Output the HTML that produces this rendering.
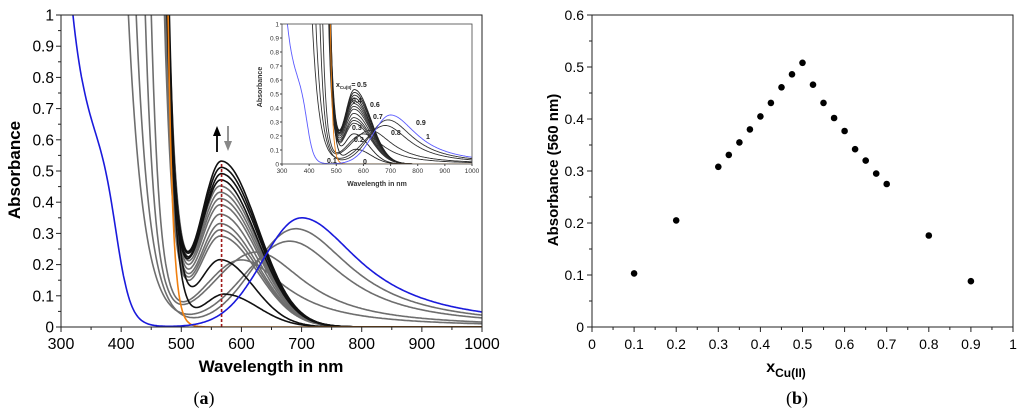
<!DOCTYPE html>
<html><head><meta charset="utf-8">
<style>
html,body{margin:0;padding:0;background:#fff;}
svg{display:block;font-family:"Liberation Sans",Arial,sans-serif;}
</style></head>
<body>
<svg id="fig" width="1024" height="416" viewBox="0 0 1024 416" xmlns="http://www.w3.org/2000/svg">
<defs>
<clipPath id="clipA"><rect x="61" y="15" width="421" height="312"/></clipPath>
<clipPath id="clipI"><rect x="282" y="24" width="190" height="140"/></clipPath>
</defs>
<g id="panelA"></g>
<g id="inset"></g>
<g id="panelB"></g>
<text x="204" y="404" font-family="Liberation Serif,serif" font-size="18" text-anchor="middle">(<tspan font-weight="bold">a</tspan>)</text>
<text x="797" y="404" font-family="Liberation Serif,serif" font-size="18" text-anchor="middle">(<tspan font-weight="bold">b</tspan>)</text>
</svg>
<script>
// ---- Panel (a) spectra parameters (one entry per spectrum) ----
const seriesKind  = ['gray','gray','gray','gray','gray','gray','gray','gray','gray','gray','gray','gray','black','black','black','black','black','black','orange','blue'];
const edgeNm      = [412,425,440,450,472,473,474,475,476,477,478,479,478,480,476,477,478,478,478,320];
const edgeDecay   = [25,22,16,14,14,14,14,14,14,14,14,14,12,12,14,14,14,14,8,25];
const edgeAmp     = [1,1,1,1,1,1,1,1,1,1,1,1,1,1,1,1,1,1,1,0.45];
const peakNm      = [680,690,625,600,565,565,565,565,565,565,565,565,572,565,566,567,567,567,0,700];
const peakAbs     = [0.275,0.315,0.24,0.215,0.29,0.31,0.33,0.36,0.39,0.41,0.43,0.45,0.105,0.215,0.47,0.49,0.51,0.53,0,0.35];
const leftSigma   = [75,70,70,60,35,35,35,35,35,35,35,35,35,35,35,35,35,35,1,65];
const rightWidth  = [110,115,100,90,62,62,62,62,62,62,62,62,55,55,60,60,60,60,1,120];
const lorentzTail = [1,1,1,1,0,0,0,0,0,0,0,0,0,0,0,0,0,0,0,1];
const shoulderAmp = [0,0,0,0,0,0,0,0,0,0,0,0,0,0,0,0,0,0,0,0.55];
const shoulderNm  = [0,0,0,0,0,0,0,0,0,0,0,0,0,0,0,0,0,0,0,392];
const xTicksA = [300,400,500,600,700,800,900,1000];
const yTicksA = [0,0.1,0.2,0.3,0.4,0.5,0.6,0.7,0.8,0.9,1];
const markerNm = 567, markerAbs = 0.53;

// ---- Panel (b) Job plot ----
const moleFraction = [0.1,0.2,0.3,0.325,0.35,0.375,0.4,0.425,0.45,0.475,0.5,0.525,0.55,0.575,0.6,0.625,0.65,0.675,0.7,0.8,0.9];
const absAt560     = [0.103,0.205,0.308,0.331,0.355,0.38,0.405,0.431,0.461,0.486,0.508,0.466,0.431,0.402,0.377,0.342,0.32,0.295,0.275,0.176,0.088];
const xTicksB = [0,0.1,0.2,0.3,0.4,0.5,0.6,0.7,0.8,0.9,1];
const yTicksB = [0,0.1,0.2,0.3,0.4,0.5,0.6];

// ---- inset labels ----
const insetLabels = ['0.5','0.4','0.6','0.7','0.3','0.9','0.8','1','0.2','0.1','0'];

const NS='http://www.w3.org/2000/svg';
function mk(tag,attrs,parent){const e=document.createElementNS(NS,tag);for(const k in attrs)e.setAttribute(k,attrs[k]);parent.appendChild(e);return e;}
const colorOf={gray:'#6e6e6e',black:'#111',orange:'#f08010',blue:'#1a1adc'};
const insetColor={gray:'#333',black:'#222',orange:'#f08010',blue:'#5a5aff'};

function absorb(i,l){
  let a=edgeAmp[i]*Math.exp(-(l-edgeNm[i])/edgeDecay[i]);
  if(shoulderAmp[i]>0)a+=shoulderAmp[i]/(1+Math.exp((l-shoulderNm[i])/12));
  const p=peakNm[i],h=peakAbs[i];
  if(h>0){
    if(l<p)a+=h*Math.exp(-0.5*Math.pow((l-p)/leftSigma[i],2));
    else if(lorentzTail[i])a+=h/(1+Math.pow((l-p)/rightWidth[i],2));
    else a+=h*Math.exp(-0.5*Math.pow((l-p)/rightWidth[i],2));
  }
  return Math.min(a,1.3);
}

function drawSpectra(g,X,Y,clip,sw,cols,prefix){
  const cg=mk('g',{'clip-path':'url(#'+clip+')'},g);
  for(let i=0;i<seriesKind.length;i++){
    let d='';
    for(let l=300;l<=1000;l+=2){d+=(l===300?'M':'L')+X(l).toFixed(1)+','+Y(absorb(i,l)).toFixed(1);}
    const p=mk('path',{d:d,fill:'none',stroke:cols[seriesKind[i]],'stroke-width':sw},cg);
    
    
  }
}

// ===== Panel A =====
(function(){
  const g=document.getElementById('panelA');
  const L=61,R=482,T=15,B=327;
  const X=v=>L+(v-300)/700*(R-L), Y=v=>B-v*(B-T);
  drawSpectra(g,X,Y,'clipA',1.6,colorOf,'main');
  const ml=mk('line',{x1:X(markerNm),x2:X(markerNm),y1:Y(0),y2:Y(markerAbs),stroke:'#a01818','stroke-width':1.6,'stroke-dasharray':'3,2'},g);
  
  const a1=mk('g',{},g);
  mk('line',{x1:217,x2:217,y1:152,y2:134,stroke:'#000','stroke-width':1.8},a1);
  mk('path',{d:'M213,136 L217,126 L221,136 Z',fill:'#000'},a1);
  const a2=mk('g',{},g);
  mk('line',{x1:228,x2:228,y1:126,y2:143,stroke:'#888','stroke-width':1.8},a2);
  mk('path',{d:'M224,141 L228,151 L232,141 Z',fill:'#888'},a2);
  const fr=mk('rect',{x:L,y:T,width:R-L,height:B-T,fill:'none',stroke:'#222','stroke-width':1},g);
  
  for(let v=300;v<=1000;v+=50){const maj=(v%100===0);mk('line',{x1:X(v),x2:X(v),y1:B,y2:B+(maj?5:3),stroke:'#222'},g);}
  xTicksA.forEach(v=>{const t=mk('text',{x:X(v),y:B+22,'font-size':16,'text-anchor':'middle'},g);t.textContent=v;});
  for(let k=0;k<=20;k++){const v=k*0.05;mk('line',{x1:L,x2:L-(k%2===0?5:3),y1:Y(v),y2:Y(v),stroke:'#222'},g);}
  yTicksA.forEach(v=>{const t=mk('text',{x:L-7,y:Y(v)+5.5,'font-size':15.5,'text-anchor':'end'},g);t.textContent=v;});
  const xt=mk('text',{x:271,y:372,'font-size':17,'font-weight':'bold','text-anchor':'middle'},g);xt.textContent='Wavelength in nm';
  
  const yt=mk('text',{x:0,y:0,'font-size':17,'font-weight':'bold','text-anchor':'middle',transform:'translate(20,170) rotate(-90)'},g);yt.textContent='Absorbance';
  
})();

// ===== Inset =====
(function(){
  const g=document.getElementById('inset');
  const L=282,R=472,T=24,B=164;
  mk('rect',{x:L,y:T,width:R-L,height:B-T,fill:'#fff',stroke:'none'},g);
  const X=v=>L+(v-300)/700*(R-L), Y=v=>B-v*(B-T);
  drawSpectra(g,X,Y,'clipI',0.9,insetColor,'inset');
  mk('rect',{x:L,y:T,width:R-L,height:B-T,fill:'none',stroke:'#444','stroke-width':0.8},g);
  for(let v=300;v<=1000;v+=100){mk('line',{x1:X(v),x2:X(v),y1:B,y2:B+2,stroke:'#444'},g);const t=mk('text',{x:X(v),y:B+9,'font-size':6.5,'text-anchor':'middle',fill:'#333'},g);t.textContent=v;}
  for(let k=0;k<=10;k++){const v=k/10;mk('line',{x1:L,x2:L-2,y1:Y(v),y2:Y(v),stroke:'#444'},g);const t=mk('text',{x:L-3,y:Y(v)+2.3,'font-size':6.5,'text-anchor':'end',fill:'#333'},g);t.textContent=(v===0||v===1)?v:v.toFixed(1);}
  const xt=mk('text',{x:377,y:186,'font-size':7,'font-weight':'bold','text-anchor':'middle',fill:'#333'},g);xt.textContent='Wavelength in nm';
  
  const yt=mk('text',{x:0,y:0,'font-size':7,'font-weight':'bold','text-anchor':'middle',fill:'#333',transform:'translate(262,87) rotate(-90)'},g);yt.textContent='Absorbance';
  
  const xl=mk('text',{x:336,y:87,'font-size':7,'font-weight':'bold',fill:'#222'},g);
  xl.innerHTML='x<tspan font-size="4.5" dy="2">Cu(II)</tspan><tspan dy="-2">=</tspan>';
  
  const pos=[[357,87],[352,103],[370,107],[373,119],[352,130],[416,125],[391,135],[426,139],[354,142],[327,163],[363,164]];
  insetLabels.forEach((s,i)=>{const t=mk('text',{x:pos[i][0],y:pos[i][1],'font-size':7,'font-weight':'bold',fill:'#222'},g);t.textContent=s;});
})();

// ===== Panel B =====
(function(){
  const g=document.getElementById('panelB');
  const L=592,R=1013,T=15,B=327;
  const X=v=>L+v*(R-L), Y=v=>B-v/0.6*(B-T);
  const fr=mk('rect',{x:L,y:T,width:R-L,height:B-T,fill:'none',stroke:'#222','stroke-width':1},g);
  
  for(let k=0;k<=20;k++){const v=k*0.05;mk('line',{x1:X(v),x2:X(v),y1:B,y2:B+(k%2===0?5:3),stroke:'#222'},g);}
  xTicksB.forEach(v=>{const t=mk('text',{x:X(v),y:B+22,'font-size':14,'text-anchor':'middle'},g);t.textContent=v;});
  for(let k=0;k<=12;k++){const v=k*0.05;mk('line',{x1:L,x2:L-(k%2===0?5:3),y1:Y(v),y2:Y(v),stroke:'#222'},g);}
  yTicksB.forEach(v=>{const t=mk('text',{x:L-8,y:Y(v)+5,'font-size':14,'text-anchor':'end'},g);t.textContent=v;});
  moleFraction.forEach((x,i)=>{
    const c=mk('circle',{cx:X(x).toFixed(1),cy:Y(absAt560[i]).toFixed(1),r:3.3,fill:'#000'},g);
    
    
  });
  const xt=mk('text',{x:786,y:372,'font-size':16,'font-weight':'bold','text-anchor':'middle'},g);
  xt.innerHTML='x<tspan font-size="12" dy="5">Cu(II)</tspan>';
  
  const yt=mk('text',{x:0,y:0,'font-size':15,'font-weight':'bold','text-anchor':'middle',transform:'translate(558,170) rotate(-90)'},g);yt.textContent='Absorbance (560 nm)';
  
})();
</script>
</body></html>
